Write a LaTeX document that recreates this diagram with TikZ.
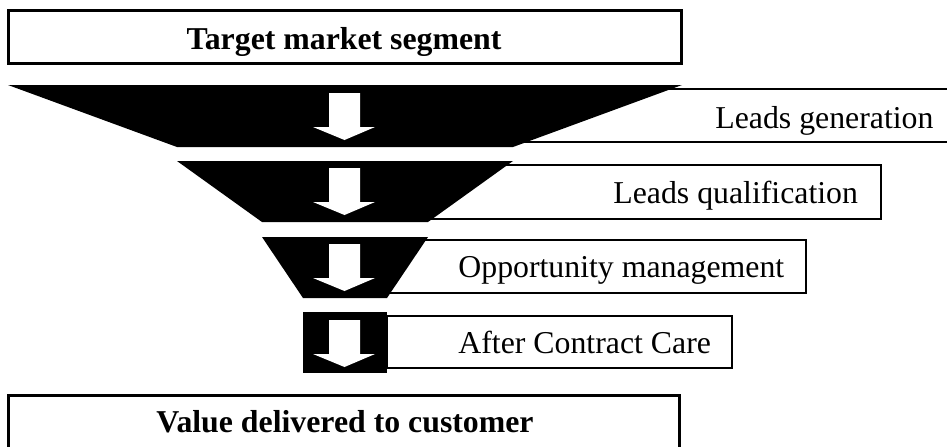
\documentclass[tikz,border=0pt]{standalone}
\usepackage{fontspec}
\setmainfont{Liberation Serif}
\begin{document}
\begin{tikzpicture}[x=0.5pt,y=-0.5pt,
  framebox/.style={draw=black,fill=white,line width=1.5pt},
  labelbox/.style={draw=black,fill=white,line width=1.3pt},
  stage/.style={fill=black},
  downarrow/.style={fill=white},
  bigtext/.style={font=\fontsize{15.9}{19}\selectfont\bfseries,inner sep=0pt,anchor=base},
  stagetext/.style={font=\fontsize{15.9}{19}\selectfont,inner sep=0pt,anchor=base west}]
\useasboundingbox (0,0) rectangle (947,446);

% top and bottom frames
\draw[framebox] (8,10) rectangle (681,63);
\node[bigtext] (target) at (344,49) {Target market segment};
\draw[framebox] (8,395) rectangle (679,460);
\node[bigtext] (value) at (345,432) {Value delivered to customer};

% stage label boxes (left parts hidden behind the funnel)
\draw[labelbox] (400,89) rectangle (960,142);
\draw[labelbox] (400,165) rectangle (881,219);
\draw[labelbox] (345,240) rectangle (806,293);
\draw[labelbox] (387,316) rectangle (732,368);
\node[stagetext] (gen)  at (715,128) {Leads generation};
\node[stagetext] (qual) at (613,203) {Leads qualification};
\node[stagetext] (opp)  at (458,277) {Opportunity management};
\node[stagetext] (care) at (458,353) {After Contract Care};

% funnel sections
\fill[stage] (8,85) -- (682,85) -- (513,147) -- (177,147) -- cycle;
\fill[stage] (177,161) -- (513,161) -- (428,222) -- (262,222) -- cycle;
\fill[stage] (262,237) -- (428,237) -- (387,298) -- (303,298) -- cycle;
\fill[stage] (303,312) rectangle (387,373);

% white arrows inside each section
\foreach \t in {93,168,244,320}{
  \fill[downarrow] (329,\t) -- (360,\t) -- (360,\t+34) -- (375,\t+34)
    -- (344.5,\t+47) -- (313,\t+34) -- (329,\t+34) -- cycle;
}
\end{tikzpicture}
\end{document}
